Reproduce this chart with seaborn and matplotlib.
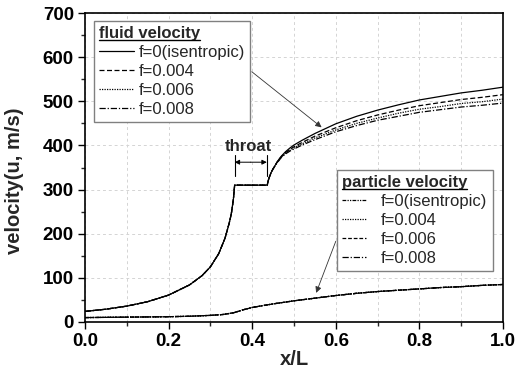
import numpy as np
import pandas as pd
import matplotlib
matplotlib.use("Agg")
import matplotlib.pyplot as plt
from matplotlib.lines import Line2D
from matplotlib.ticker import MultipleLocator, FormatStrFormatter
import seaborn as sns

# ---------------- data ----------------
x_pre = [0.0, 0.05, 0.1, 0.15, 0.2, 0.25, 0.28, 0.3, 0.32, 0.335, 0.345, 0.35, 0.355, 0.358]
v_pre = [24, 29, 36, 46, 61, 84, 105, 125, 155, 190, 224, 245, 278, 310]

x_post = [0.436, 0.438, 0.441, 0.445, 0.45, 0.455, 0.46, 0.465, 0.47, 0.48, 0.49, 0.5,
          0.52, 0.55, 0.6, 0.65, 0.7, 0.75, 0.8, 0.85, 0.9, 0.95, 1.0]
fluid_f0 = [310, 319, 328, 338, 347, 355, 363, 370, 376, 386, 394, 401,
            412, 427, 449, 466, 480, 492, 503, 511, 519, 525, 532]
fluid_f004 = [310, 319, 328, 338, 347, 355, 363, 369, 375, 384, 391, 397,
              407, 421, 440, 456, 469, 480, 490, 497, 504, 509, 515]
fluid_f006 = [310, 319, 328, 338, 347, 355, 362, 368, 374, 382, 389, 394,
              404, 417, 435, 450, 462, 473, 482, 488, 495, 499, 505]
fluid_f008 = [310, 319, 328, 338, 347, 354, 361, 367, 373, 381, 387, 392,
              401, 413, 431, 445, 457, 466, 475, 481, 487, 491, 496]

x_part = [0.0, 0.1, 0.2, 0.25, 0.3, 0.33, 0.356, 0.38, 0.4, 0.45, 0.5, 0.55,
          0.6, 0.65, 0.7, 0.75, 0.8, 0.85, 0.9, 0.95, 1.0]
part_f0 = [10, 11, 12, 13, 15, 17, 21, 28, 33, 41, 48, 54, 60, 65, 69, 72, 75, 78, 80, 83, 85]
part_f004 = [10, 11, 12, 13, 15, 17, 21, 28, 33, 41, 48, 54, 60, 65, 69, 72, 75, 78, 80, 83, 85]
part_f006 = [10, 11, 12, 13, 15, 17, 21, 28, 33, 41, 48, 54, 60, 65, 69, 72, 75, 78, 80, 83, 85]
part_f008 = [10, 11, 12, 13, 15, 17, 21, 28, 33, 41, 48, 54, 60, 65, 69, 72, 75, 78, 80, 83, 85]

labels = ["f=0(isentropic)", "f=0.004", "f=0.006", "f=0.008"]

# ---------------- style ----------------
sns.set_theme(style="ticks")
plt.rcParams["font.family"] = ["Liberation Sans", "DejaVu Sans"]

fig = plt.figure(figsize=(5.24, 3.68), dpi=100)
ax = fig.add_axes([85 / 524, 1 - 322 / 368, (503 - 85) / 524, (322 - 13) / 368])

fluid_styles = ["-", (0, (4, 2)), (0, (1, 1)), (0, (5, 1.5, 1, 1.5))]
part_styles = [(0, (3, 1, 1, 1, 1, 1)), (0, (1, 1)), (0, (3, 1.5)), (0, (5, 1.5, 1, 1.5))]

fluids = [fluid_f0, fluid_f004, fluid_f006, fluid_f008]
parts = [part_f0, part_f004, part_f006, part_f008]

for vals, ls in zip(fluids, fluid_styles):
    df = pd.DataFrame({"x": x_pre + x_post, "v": v_pre + vals})
    sns.lineplot(data=df, x="x", y="v", ax=ax, color="black", lw=0.9,
                 linestyle=ls, estimator=None, sort=False, legend=False)

for vals, ls in zip(parts, part_styles):
    df = pd.DataFrame({"x": x_part, "v": vals})
    sns.lineplot(data=df, x="x", y="v", ax=ax, color="black", lw=0.9,
                 linestyle=ls, estimator=None, sort=False, legend=False)

ax.set_xlim(0, 1.0)
ax.set_ylim(0, 700)
ax.xaxis.set_major_locator(MultipleLocator(0.2))
ax.xaxis.set_minor_locator(MultipleLocator(0.1))
ax.yaxis.set_major_locator(MultipleLocator(100))
ax.yaxis.set_minor_locator(MultipleLocator(50))
ax.xaxis.set_major_formatter(FormatStrFormatter("%.1f"))

ax.xaxis.grid(True, which="both", color="#d4d4d4", linestyle=(0, (3, 3)), lw=0.7)
ax.yaxis.grid(True, which="major", color="#d4d4d4", linestyle=(0, (3, 3)), lw=0.7)
ax.set_axisbelow(True)

for sp in ax.spines.values():
    sp.set_visible(True)
    sp.set_color("black")
    sp.set_linewidth(1.2)

ax.tick_params(which="major", direction="out", length=5, width=1, labelsize=13.5,
               top=False, right=False, colors="black", pad=3)
ax.tick_params(which="minor", direction="out", length=3, width=1, top=False, right=False)
for t in ax.get_xticklabels() + ax.get_yticklabels():
    t.set_fontweight("bold")

ax.set_xlabel("x/L", fontsize=14.5, fontweight="bold", labelpad=0)
ax.set_ylabel("velocity(u, m/s)", fontsize=14.5, fontweight="bold")
ax.yaxis.set_label_coords(-0.145, 0.456)

# ---------------- legends ----------------
h_fluid = [Line2D([], [], color="black", lw=0.9, linestyle=s) for s in fluid_styles]
leg1 = ax.legend(h_fluid, labels, loc="upper left", bbox_to_anchor=(0.0215, 0.974),
                 borderaxespad=0, fontsize=12, title="fluid velocity",
                 title_fontproperties={"size": 12, "weight": "bold"},
                 alignment="left", frameon=True, fancybox=False,
                 edgecolor="#808080", framealpha=1, handlelength=2.1, handletextpad=0.3,
                 labelspacing=0.24, borderpad=0.3)
leg1.get_frame().set_linewidth(1.0)
ax.add_artist(leg1)

h_part = [Line2D([], [], color="black", lw=0.9, linestyle=s) for s in part_styles]
leg2 = ax.legend(h_part, labels, loc="upper left", bbox_to_anchor=(0.603, 0.492),
                 borderaxespad=0, fontsize=12, title="particle velocity",
                 title_fontproperties={"size": 12, "weight": "bold"},
                 alignment="left", frameon=True, fancybox=False,
                 edgecolor="#808080", framealpha=1, handlelength=1.45, handletextpad=0.9,
                 labelspacing=0.24, borderpad=0.3)
leg2.get_frame().set_linewidth(1.0)

# ---------------- annotations ----------------
ax.text(0.392, 398, "throat", ha="center", va="center", fontsize=12, fontweight="bold")
ax.plot([0.358, 0.358], [330, 378], color="black", lw=0.8)
ax.plot([0.435, 0.435], [330, 378], color="black", lw=0.8)
for xend in (0.358, 0.435):
    ax.annotate("", xy=(xend, 362), xytext=(0.3965, 362),
                arrowprops=dict(arrowstyle="-|>", color="black", lw=0.7, mutation_scale=7,
                                shrinkA=0, shrinkB=0))

ax.annotate("", xy=(0.566, 441), xytext=(0.399, 567),
            arrowprops=dict(arrowstyle="-|>", color="#333333", lw=0.6, mutation_scale=9,
                            shrinkA=0, shrinkB=0))
ax.annotate("", xy=(0.553, 66), xytext=(0.600, 183),
            arrowprops=dict(arrowstyle="-|>", color="#333333", lw=0.6, mutation_scale=9,
                            shrinkA=0, shrinkB=0))

# underline legend titles
fig.canvas.draw()
for leg in (leg1, leg2):
    bb = leg.get_title().get_window_extent(fig.canvas.get_renderer())
    y = bb.y0 + 1
    fig.add_artist(Line2D([bb.x0 / fig.bbox.width, bb.x1 / fig.bbox.width],
                          [y / fig.bbox.height, y / fig.bbox.height],
                          transform=fig.transFigure, color="black", lw=1.0))

fig.savefig("out.png", dpi=100)
